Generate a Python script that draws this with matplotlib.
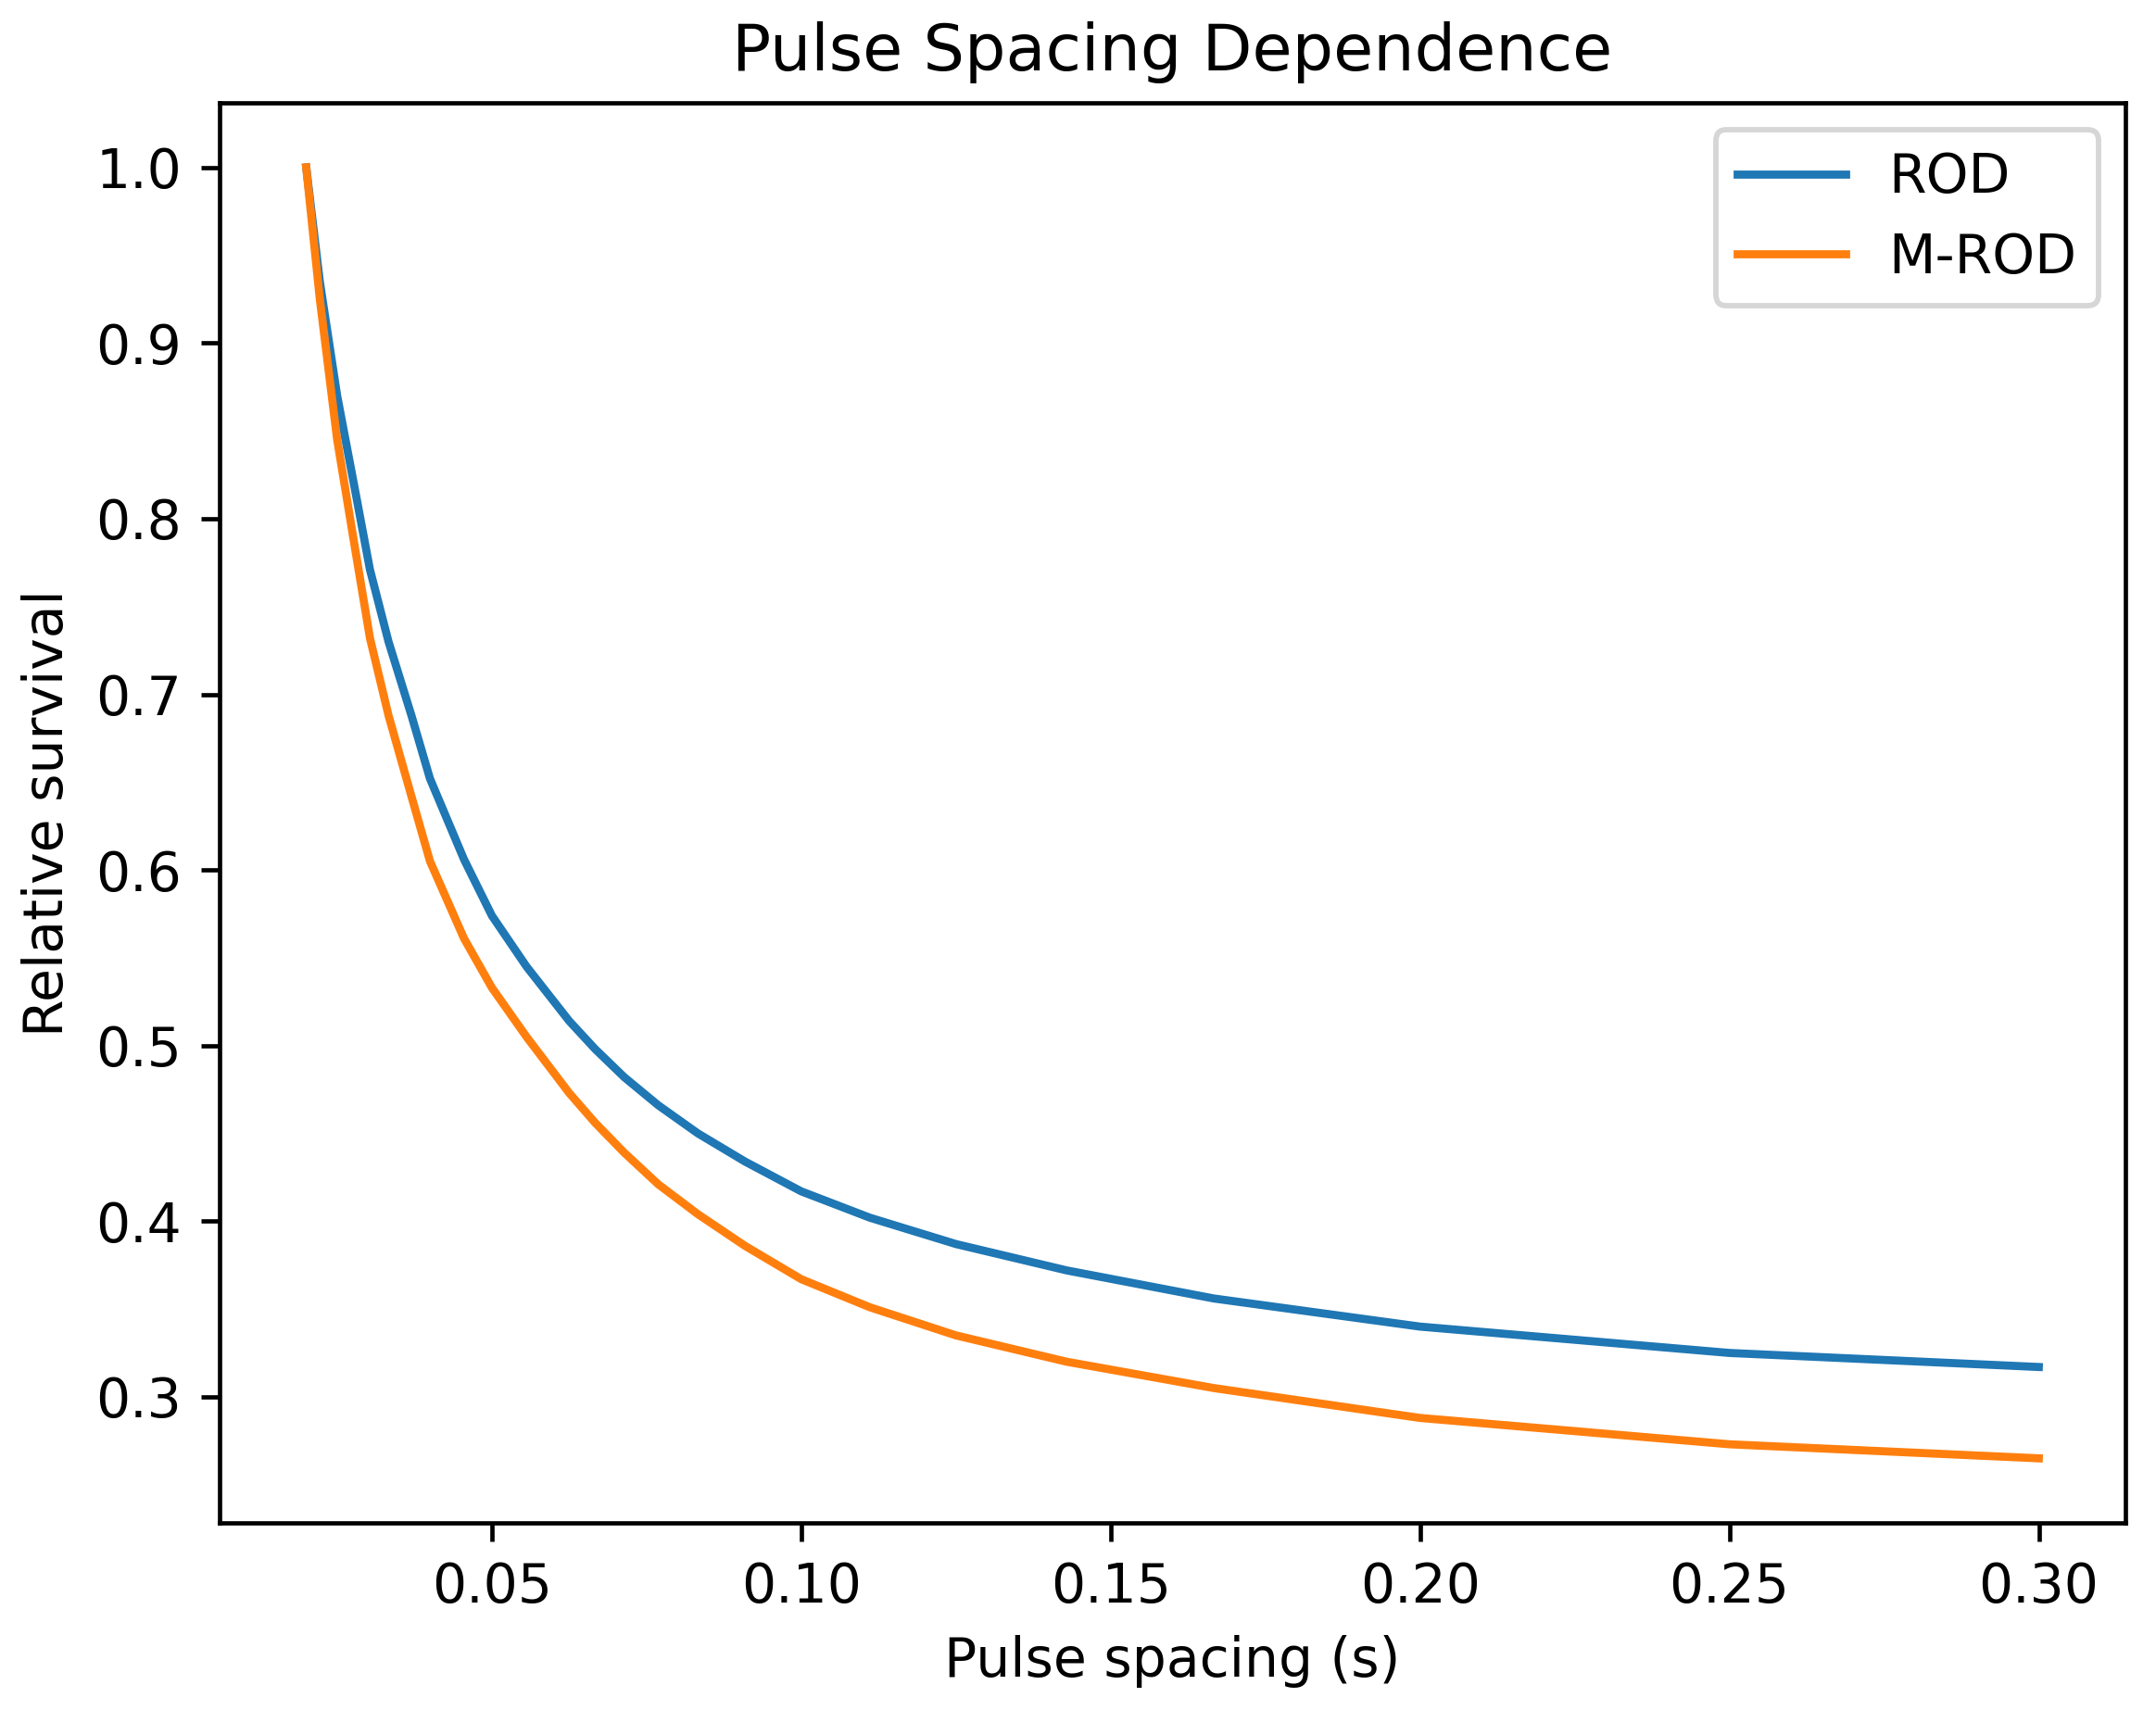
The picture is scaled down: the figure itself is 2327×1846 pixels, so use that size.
import matplotlib
matplotlib.use("Agg")
import matplotlib.pyplot as plt

# pulse spacing (s)
spacing = [0.0200, 0.0222, 0.0250, 0.0278, 0.0303, 0.0333, 0.0370, 0.0400,
           0.0455, 0.0500, 0.0556, 0.0625, 0.0667, 0.0714, 0.0769, 0.0833,
           0.0909, 0.1000, 0.1111, 0.1250, 0.1429, 0.1667, 0.2000, 0.2500,
           0.3000]

# relative survival
rod = [1.000, 0.935, 0.870, 0.818, 0.771, 0.730, 0.688, 0.652,
       0.606, 0.574, 0.545, 0.514, 0.498, 0.482, 0.466, 0.450,
       0.434, 0.417, 0.402, 0.387, 0.372, 0.356, 0.340, 0.325,
       0.317]
m_rod = [1.000, 0.925, 0.845, 0.785, 0.732, 0.688, 0.642, 0.605,
         0.561, 0.533, 0.505, 0.473, 0.456, 0.439, 0.421, 0.404,
         0.386, 0.367, 0.351, 0.335, 0.320, 0.305, 0.288, 0.273,
         0.265]

W, H = 2327, 1846
dpi = 420
fig = plt.figure(figsize=(W / dpi, H / dpi), dpi=dpi)
ax = fig.add_axes([237 / W, 1 - 1644 / H, 2057 / W, 1533 / H])

ax.plot(spacing, rod, label='ROD')
ax.plot(spacing, m_rod, label='M-ROD')

ax.set_title('Pulse Spacing Dependence')
ax.set_xlabel('Pulse spacing (s)')
ax.set_ylabel('Relative survival')
ax.legend(loc='upper right')

fig.savefig('out.png', dpi=dpi)
